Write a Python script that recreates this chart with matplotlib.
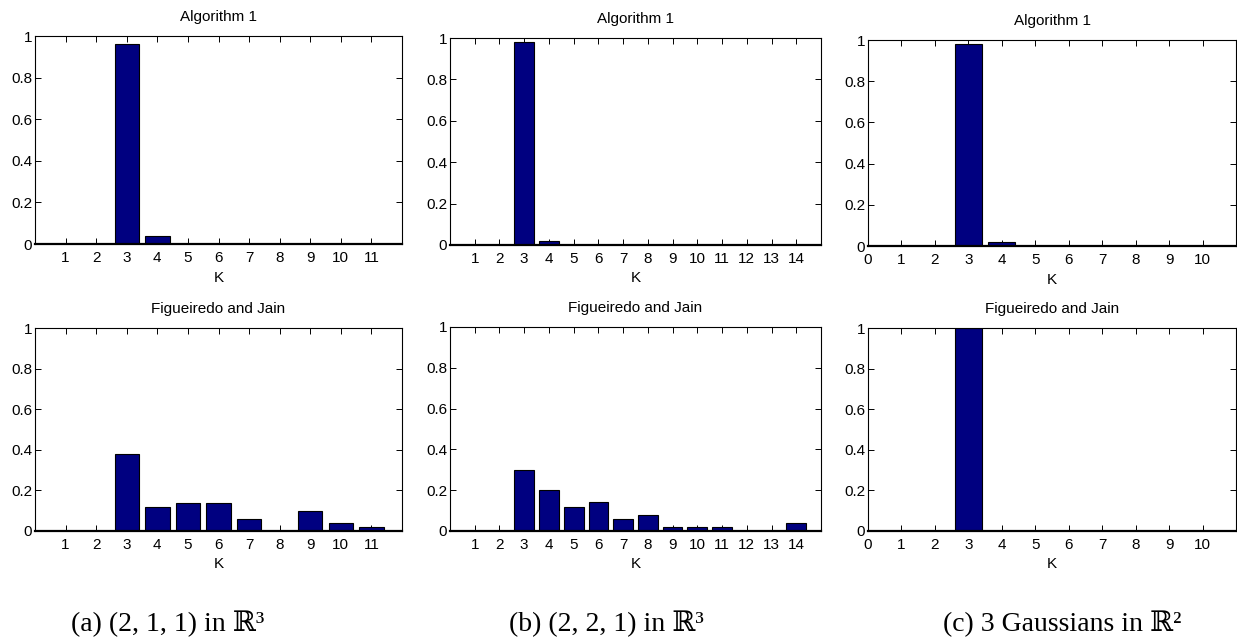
import matplotlib
matplotlib.use("Agg")
import matplotlib.pyplot as plt
from matplotlib import font_manager

# ---------------- data ----------------
k_a = [1, 2, 3, 4, 5, 6, 7, 8, 9, 10, 11]
alg_a = [0, 0, 0.96, 0.04, 0, 0, 0, 0, 0, 0, 0]
fj_a = [0, 0, 0.38, 0.12, 0.14, 0.14, 0.06, 0, 0.10, 0.04, 0.02]

k_b = [1, 2, 3, 4, 5, 6, 7, 8, 9, 10, 11, 12, 13, 14]
alg_b = [0, 0, 0.98, 0.02, 0, 0, 0, 0, 0, 0, 0, 0, 0, 0]
fj_b = [0, 0, 0.30, 0.20, 0.12, 0.14, 0.06, 0.08, 0.02, 0.02, 0.02, 0, 0, 0.04]

k_c = [1, 2, 3, 4, 5, 6, 7, 8, 9, 10]
alg_c = [0, 0, 0.98, 0.02, 0, 0, 0, 0, 0, 0]
fj_c = [0, 0, 1.0, 0, 0, 0, 0, 0, 0, 0]

xticks_a = list(range(1, 12))
xticks_b = list(range(1, 15))
xticks_c = list(range(0, 11))
yticks = [0, 0.2, 0.4, 0.6, 0.8, 1]
ytick_labels = ["0", "0.2", "0.4", "0.6", "0.8", "1"]

titles = ["Algorithm 1", "Figueiredo and Jain"]
captions = ["(a) (2, 1, 1) in \u211d\u00b3",
            "(b) (2, 2, 1) in \u211d\u00b3",
            "(c) 3 Gaussians in \u211d\u00b2"]

# ---------------- style ----------------
names = {f.name for f in font_manager.fontManager.ttflist}
if "Liberation Sans Narrow" in names:
    SANS = "Liberation Sans Narrow"
    FS = 12
else:
    SANS = "Liberation Sans"
    FS = 11
plt.rcParams["font.family"] = [SANS, "DejaVu Sans"]

W, H = 1237, 638
fig = plt.figure(figsize=(W / 100, H / 100), dpi=100)

def px_axes(x0, x1, y0, y1):
    return fig.add_axes([x0 / W, 1 - y1 / H, (x1 - x0) / W, (y1 - y0) / H])

BAR = "#000080"

panels = [
    (35, 402, [(36, 244), (328, 531)], k_a, [alg_a, fj_a], xticks_a, (0, 12)),
    (450, 821, [(38, 245), (327, 531)], k_b, [alg_b, fj_b], xticks_b, (0, 15)),
    (868, 1236, [(40, 246), (328, 531)], k_c, [alg_c, fj_c], xticks_c, (0, 11)),
]

for (x0, x1, rows, k, series, xt, xl) in panels:
    for r, ((y0, y1), vals) in enumerate(zip(rows, series)):
        ax = px_axes(x0, x1, y0, y1)
        ax.bar(k, vals, width=0.8, color=BAR, edgecolor="black", linewidth=0.8, zorder=2)
        ax.set_xlim(*xl)
        ax.set_ylim(0, 1)
        ax.set_xticks(xt)
        ax.set_xticklabels([str(t) for t in xt], fontsize=FS)
        ax.set_yticks(yticks)
        ax.set_yticklabels(ytick_labels, fontsize=FS)
        ax.tick_params(axis="both", direction="in", top=True, right=True,
                       length=4, width=0.7)
        ax.tick_params(axis="x", pad=5)
        ax.tick_params(axis="y", pad=2)
        for s in ax.spines.values():
            s.set_linewidth(0.8)
        ax.spines["bottom"].set_linewidth(1.6)
        ax.spines["bottom"].set_zorder(3)
        ax.set_title(titles[r], fontsize=FS, pad=11)
        ax.set_xlabel("K", fontsize=FS, labelpad=4)

caption_x = [168, 606, 1062]
for cx, cap in zip(caption_x, captions):
    fig.text(cx / W, 1 - 631 / H, cap, ha="center", va="baseline",
             fontsize=20, family=["Liberation Serif", "DejaVu Serif"])

fig.savefig("out.png", dpi=100)
